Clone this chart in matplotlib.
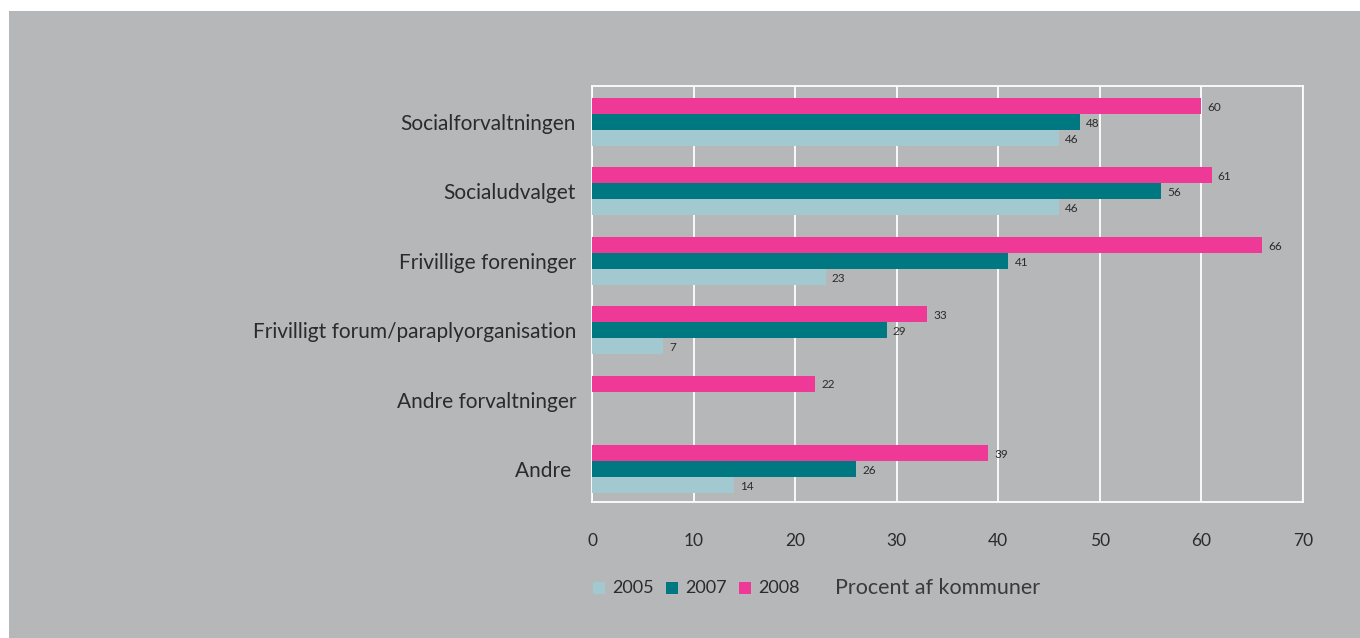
import numpy as np
import matplotlib.pyplot as plt
from matplotlib.patches import Rectangle

plt.rcParams['font.family'] = ['Lato', 'DejaVu Sans']

categories = ['Socialforvaltningen', 'Socialudvalget', 'Frivillige foreninger',
              'Frivilligt forum/paraplyorganisation', 'Andre forvaltninger', 'Andre ']
v2005 = [46, 46, 23, 7, np.nan, 14]
v2007 = [48, 56, 41, 29, np.nan, 26]
v2008 = [60, 61, 66, 33, 22, 39]
years = ['2005', '2007', '2008']
colors = ['#a3c9d0', '#007882', '#ee3a96']
bg = '#b6b7b9'
txt = '#2b2b2b'

fig = plt.figure(figsize=(13.6, 6.38), dpi=100)
fig.patches.append(Rectangle((9 / 1360, 0), 1, 1 - 11 / 638, transform=fig.transFigure,
                             facecolor=bg, edgecolor='none', zorder=-10))

ax = fig.add_axes([592 / 1360, 1 - 502 / 638, 711 / 1360, 416 / 638])
ax.set_facecolor(bg)

y = np.arange(len(categories))
h = 0.231
series = [v2005, v2007, v2008]
offsets = [h, 0, -h]
for vals, off, c in zip(series, offsets, colors):
    vals = np.array(vals, dtype=float)
    ax.barh(y + off, np.nan_to_num(vals), height=h, color=c, zorder=3)
    for yi, v in zip(y, vals):
        if not np.isnan(v):
            ax.text(v + 0.6, yi + off + 0.02, str(int(v)), va='center', ha='left',
                    fontsize=8.5, color=txt)

ax.set_xlim(0, 70)
ax.set_ylim(5.476, -0.519)
ax.set_xticks(range(0, 71, 10))
ax.set_yticks(y)
ax.set_yticklabels(categories, fontsize=15, color=txt)
ax.tick_params(axis='x', length=0, pad=22, labelsize=12.5, labelcolor=txt)
ax.tick_params(axis='y', length=0, pad=11.5)
ax.grid(axis='x', color='white', linewidth=1.3, zorder=1)
for s in ax.spines.values():
    s.set_color('white')
    s.set_linewidth(1.3)

# legend
lx = 593
for yr, c in zip(years, colors):
    fig.patches.append(Rectangle((lx / 1360, 1 - 594 / 638), 12 / 1360, 12 / 638,
                                 transform=fig.transFigure, facecolor=c, edgecolor='none'))
    fig.text((lx + 19) / 1360, 1 - 588 / 638, yr, fontsize=13, color=txt, va='center')
    lx += 73
fig.text(835 / 1360, 1 - 588 / 638, 'Procent af kommuner', fontsize=15.5, color='#3a3a3a',
         va='center')

fig.savefig('out.png', dpi=100, facecolor='white')
